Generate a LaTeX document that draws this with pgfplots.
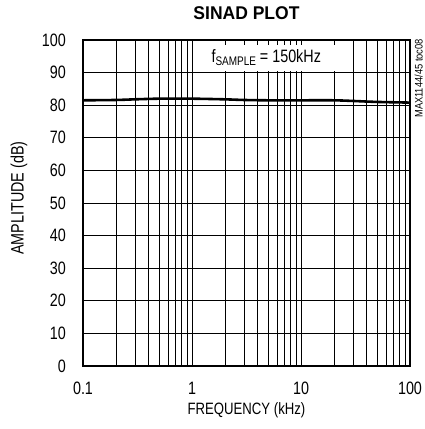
\documentclass[border=0pt]{standalone}
\usepackage{fontspec}
\setmainfont[FakeStretch=0.8]{Liberation Sans}
\newfontfamily\titlefont[FakeStretch=0.95]{Liberation Sans}
\newfontfamily\plainfont{Liberation Sans}
\usepackage{pgfplots}
\pgfplotsset{compat=1.18}
\begin{document}
\begin{tikzpicture}[x=1bp,y=1bp]
\useasboundingbox (0,0) rectangle (425,429);
\begin{axis}[
  at={(83bp,63bp)}, anchor=south west,
  scale only axis, width=327bp, height=326bp,
  xmode=log, xmin=0.1, xmax=100, ymin=0, ymax=100,
  ytick={0,10,...,100},
  xtick={0.1,1,10,100}, xticklabels={0.1,1,10,100},
  grid=both,
  major grid style={black, line width=0.8pt},
  minor grid style={black, line width=0.6pt},
  axis line style={black, line width=2pt},
  major tick length=0pt, minor tick length=0pt,
  tick label style={font=\fontsize{18}{20}\selectfont, inner sep=0pt},
  yticklabel style={anchor=east, xshift=-17bp},
  xticklabel style={anchor=north, yshift=-16bp},
  /pgf/number format/assume math mode=true,
  xlabel={FREQUENCY (kHz)},
  label style={font=\fontsize{16.5}{18}\selectfont, inner sep=0pt},
  xlabel style={at={(rel axis cs:0.5,0)}, anchor=center, yshift=-44bp},
  title={\titlefont\bfseries SINAD PLOT},
  title style={font=\fontsize{18.5}{20}\selectfont, at={(rel axis cs:0.5,1)}, anchor=base, yshift=15bp, inner sep=0pt},
  clip=false,
]
\addplot[black, line width=2.6pt, smooth] coordinates {
(0.1,81.5) (0.2,81.6) (0.3,81.8) (0.5,82.0) (1,82.0) (2,81.8) (3,81.6) (5,81.5) (10,81.5) (20,81.5) (30,81.3) (50,81.0) (100,80.8)
};
\node[fill=white, inner xsep=14bp, inner ysep=5bp, font=\fontsize{18}{20}\selectfont] at (axis cs:4.8,94.5) {f\raisebox{-3bp}{\fontsize{12.5}{13}\selectfont SAMPLE} = 150kHz};
\draw[black, line width=2pt] (rel axis cs:0,0) rectangle (rel axis cs:1,1);
\end{axis}
\node[rotate=90, anchor=center, inner sep=0pt] at (19bp,231bp) {\scalebox{0.8}[1]{\plainfont\fontsize{18}{20}\selectfont AMPLITUDE (dB)}};
\node[rotate=90, anchor=north east, inner sep=0pt] at (414.5bp,390bp) {\scalebox{0.85}[1]{\plainfont\fontsize{11}{12}\selectfont MAX1144/45 toc08}};
\end{tikzpicture}
\end{document}
